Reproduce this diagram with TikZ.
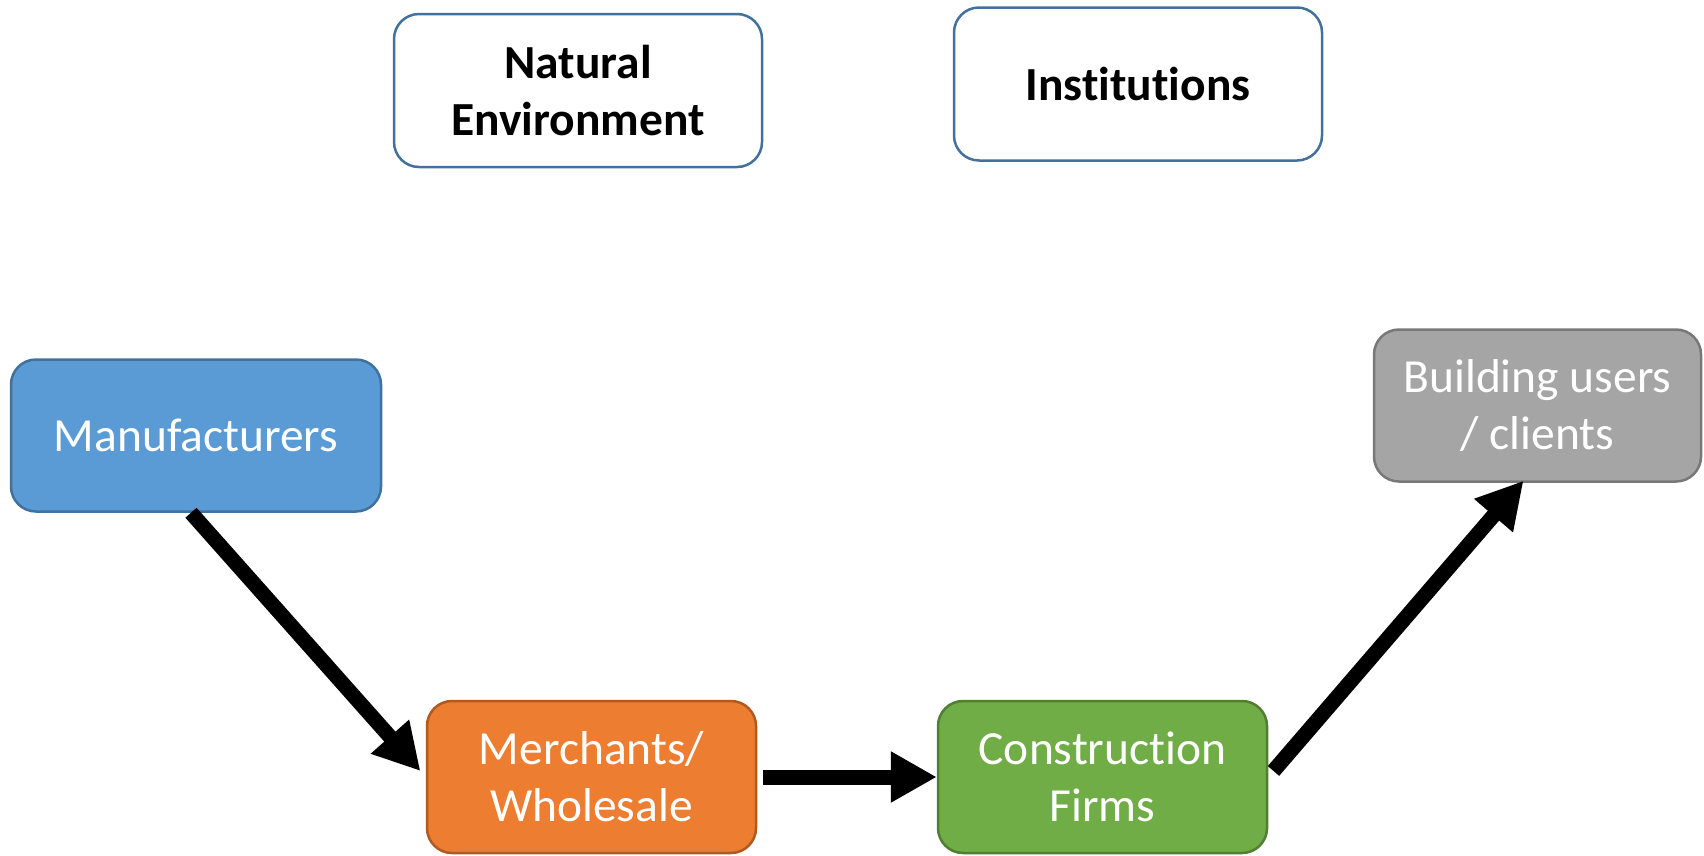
\documentclass[tikz,border=0pt]{standalone}
\usepackage{fontspec}
\setmainfont{Carlito}[Ligatures={NoCommon,NoContextual}]
\usetikzlibrary{arrows.meta}
\definecolor{bluefill}{HTML}{5B9BD5}
\definecolor{blueline}{HTML}{41719C}
\definecolor{orangefill}{HTML}{ED7D31}
\definecolor{orangeline}{HTML}{AE5A21}
\definecolor{greenfill}{HTML}{70AD47}
\definecolor{greenline}{HTML}{507E32}
\definecolor{grayfill}{HTML}{A5A5A5}
\definecolor{grayline}{HTML}{787878}
\tikzset{
  box/.style={rectangle, rounded corners=25pt, line width=2.5pt, align=center,
    font=\fontsize{47.5}{57}\selectfont, inner sep=0pt},
  topbox/.style={box, draw=blueline, fill=white, text=black,
    font=\fontsize{47.5}{57}\selectfont\bfseries,
    minimum width=368pt, minimum height=153pt},
  flowbox/.style={box, text=white, minimum height=152pt},
  flow/.style={line width=15pt, -{Triangle[length=46pt,width=48pt]}},
}
\begin{document}
\begin{tikzpicture}[x=1pt,y=-1pt]
\useasboundingbox (0,0) rectangle (1704,855);
\node[topbox] (nat) at (578,90.5) {Natural\\Environment};
\node[topbox] (inst) at (1138,84) {Institutions};
\node[flowbox, draw=blueline, fill=bluefill, minimum width=370pt] (manu) at (196,435.5) {Manufacturers};
\node[flowbox, draw=orangeline, fill=orangefill, minimum width=329pt] (merch) at (591.5,777) {Merchants/\\Wholesale};
\node[flowbox, draw=greenline, fill=greenfill, minimum width=329pt] (cons) at (1102.5,777) {Construction\\Firms};
\node[flowbox, draw=grayline, fill=grayfill, minimum width=327pt] (build) at (1537.5,405.5) {Building users\\/ clients};
\draw[flow, shorten >=8pt] ([xshift=-5pt]manu.south) -- (merch.west);
\draw[flow, shorten <=6pt] (merch.east) -- (cons.west);
\draw[flow, shorten <=8pt] (cons.east) -- ([xshift=-14pt,yshift=2pt]build.south);
\end{tikzpicture}
\end{document}
